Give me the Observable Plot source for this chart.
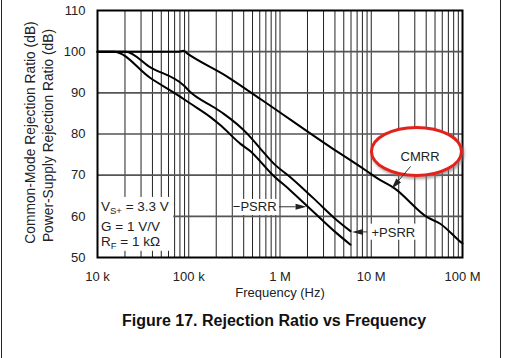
<!DOCTYPE html>
<html><head><meta charset="utf-8">
<script src="https://cdn.jsdelivr.net/npm/d3@7"></script>
<script src="https://cdn.jsdelivr.net/npm/@observablehq/plot@0.6"></script>
<style>
body{margin:0;background:#fff;font-family:"Liberation Sans",Arial,sans-serif;}
#wrap{position:relative;width:507px;height:358px;overflow:hidden;background:#fff;}
#chart{position:absolute;left:0;top:0;}
.vb{position:absolute;top:0;width:1px;height:358px;background:#222;}
#title{position:absolute;top:312px;left:0;width:548px;text-align:center;font-weight:bold;font-size:16px;color:#111;}
</style></head><body>
<div id="wrap"><div id="chart"></div><div class="vb" style="left:1px"></div><div class="vb" style="left:500px"></div><div id="title">Figure 17. Rejection Ratio vs Frequency</div></div>
<script>
// ---- data ----
const cmrrFreq = [1e4, 7.8e4, 8.8e4, 9.6e4, 2.53e5, 6.1e5, 3.57e6, 8.65e6, 1.17e7, 1.8e7, 4.1e7, 5.7e7, 9.5e7, 1e8];
const cmrrDb   = [100, 100, 100.2, 99.6, 94.2, 88.5, 76.8, 71.2, 69.2, 66.8, 59.8, 58.2, 53.8, 53.4];
const plusFreq = [1e4, 2.03e4, 3.8e4, 8.83e4, 1.04e5, 1.88e5, 2.42e5, 4.37e5, 6.11e5, 8.55e5, 1.3e6, 2.35e6, 4.23e6, 5.93e6];
const plusDb   = [100, 100, 96.2, 91.8, 90.2, 86.5, 84.9, 80.1, 76.4, 72.8, 69.5, 64.3, 59.0, 56.4];
const minusFreq = [1e4, 1.51e4, 3.8e4, 8.12e4, 1.04e5, 1.73e5, 2.23e5, 3.69e5, 4.75e5, 6.64e5, 7.87e5, 1.3e6, 2.35e6, 4.23e6, 5.93e6];
const minusDb   = [100, 100, 93.6, 89.0, 87.4, 84.1, 82.1, 77.6, 75.8, 72.4, 70.6, 66.3, 61.0, 55.8, 53.1];

const xTicks = [1e4, 1e5, 1e6, 1e7, 1e8];
const xTickLabels = ["10 k", "100 k", "1 M", "10 M", "100 M"];
const yTicks = [50, 60, 70, 80, 90, 100, 110];
const yGrid = [60, 70, 80, 90, 100];
const decades = [1e4, 1e5, 1e6, 1e7];
const multipliers = [1, 2, 3, 4, 5, 6, 7, 8, 9];
const xGrid = decades.flatMap(d => multipliers.map(m => d * m)).filter(v => v > 1e4);

const yLabel1 = "Common-Mode Rejection Ratio (dB)";
const yLabel2 = "Power-Supply Rejection Ratio (dB)";
const xLabel = "Frequency (Hz)";

// annotation anchors in data space
const labelMinus = [{text: "−PSRR", f: 9.16e5, db: 62.2}];
const labelPlus = [{text: "+PSRR", f: 1.007e7, db: 56.1}];
const labelCmrr = [{text: "CMRR", f: 3.47e7, db: 74.3}];
const bgBoxes = [
  {x1: 1e4, x2: 6.85e4, y1: 51.5, y2: 64.6},
  {x1: 3.09e5, x2: 9.64e5, y1: 60.2, y2: 64.1},
  {x1: 9.33e6, x2: 3.38e7, y1: 54.2, y2: 58.1}
];
const arrows = [
  {f0: 9.89e5, db0: 62.2, f1: 1.98e6, db1: 62.2},
  {f0: 9.1e6, db0: 56.1, f1: 6.24e6, db1: 56.1},
  {f0: 2.73e7, db0: 72.0, f1: 1.69e7, db1: 66.55}
];
const ellipse = {f: 3.17e7, db: 75.65};

const rows = [
  ...cmrrFreq.map((f, i) => ({series: "CMRR", f, db: cmrrDb[i]})),
  ...plusFreq.map((f, i) => ({series: "+PSRR", f, db: plusDb[i]})),
  ...minusFreq.map((f, i) => ({series: "-PSRR", f, db: minusDb[i]}))
];
const tickMap = new Map(xTicks.map((t, i) => [t, xTickLabels[i]]));
const FONT = "Liberation Sans, Arial, sans-serif";

const chart = Plot.plot({
  width: 507, height: 310,
  marginLeft: 97, marginRight: 45, marginTop: 10, marginBottom: 53,
  style: {fontFamily: FONT, fontSize: "13px", color: "#222", background: "transparent"},
  x: {type: "log", domain: [1e4, 1e8]},
  y: {domain: [50, 110]},
  marks: [
    Plot.ruleX(xGrid, {stroke: "#222", strokeWidth: 1}),
    Plot.ruleY(yGrid, {stroke: "#555", strokeWidth: 1.6}),
    Plot.rect(bgBoxes, {x1: "x1", x2: "x2", y1: "y1", y2: "y2", fill: "white"}),
    Plot.line(rows, {x: "f", y: "db", z: "series", stroke: "black", strokeWidth: 2, curve: "monotone-x"}),
    Plot.frame({stroke: "black", strokeWidth: 2}),
    Plot.axisX(xTicks, {tickSize: 0, tickPadding: 14, tickFormat: d => tickMap.get(d), fontSize: 13, label: null}),
    Plot.axisY(yTicks, {tickSize: 0, tickPadding: 12, fontSize: 13, label: null}),
    Plot.text([xLabel], {frameAnchor: "bottom", dy: 39, fontSize: 13, fill: "#222"}),
    Plot.text(labelMinus, {x: "f", y: "db", text: "text", textAnchor: "end", fontSize: 13, fill: "#222"}),
    Plot.text(labelPlus, {x: "f", y: "db", text: "text", textAnchor: "start", fontSize: 13, fill: "#222"})
  ]
});
document.getElementById("chart").appendChild(chart);

const X = chart.scale("x"), Y = chart.scale("y");
const svg = d3.select(chart);

// drop-shadow filter
const defs = svg.append("defs");
const flt = defs.append("filter").attr("id", "shadow").attr("x", "-20%").attr("y", "-20%").attr("width", "140%").attr("height", "150%");
flt.append("feDropShadow").attr("dx", 1.5).attr("dy", 2).attr("stdDeviation", 1.5).attr("flood-color", "#777").attr("flood-opacity", 0.7);

// red ellipse around CMRR (white fill hides the grid)
svg.append("ellipse")
  .attr("cx", X.apply(ellipse.f)).attr("cy", Y.apply(ellipse.db))
  .attr("rx", 45).attr("ry", 24)
  .attr("fill", "white").attr("stroke", "#e3201b").attr("stroke-width", 3)
  .attr("filter", "url(#shadow)");
svg.append("text")
  .attr("x", X.apply(labelCmrr[0].f)).attr("y", Y.apply(labelCmrr[0].db))
  .attr("dy", "0.32em").attr("text-anchor", "middle")
  .attr("font-family", FONT).attr("font-size", 13).attr("fill", "#222")
  .text(labelCmrr[0].text);

// arrows with filled heads
const ag = svg.append("g");
arrows.forEach(a => {
  const x0 = X.apply(a.f0), y0 = Y.apply(a.db0), x1 = X.apply(a.f1), y1 = Y.apply(a.db1);
  const dx = x1 - x0, dy = y1 - y0, L = Math.hypot(dx, dy), ux = dx / L, uy = dy / L;
  const hl = 11, hw = 3;
  const bx = x1 - ux * hl, by = y1 - uy * hl;
  ag.append("line").attr("x1", x0).attr("y1", y0).attr("x2", bx).attr("y2", by)
    .attr("stroke", "#333").attr("stroke-width", 1);
  ag.append("path").attr("d", `M${x1},${y1}L${bx - uy * hw},${by + ux * hw}L${bx + uy * hw},${by - ux * hw}Z`)
    .attr("fill", "#222");
});

// inset conditions with subscripts
const inset = svg.append("g").attr("font-family", FONT).attr("font-size", 13.5).attr("fill", "#222").attr("text-anchor", "start");
const ix = X.apply(1e4) + 4;
const t1 = inset.append("text").attr("x", ix).attr("y", Y.apply(61.2));
t1.append("tspan").text("V");
t1.append("tspan").attr("font-size", 9.5).attr("dy", 3).text("S+");
t1.append("tspan").attr("dy", -3).text(" = 3.3 V");
inset.append("text").attr("x", ix).attr("y", Y.apply(56.4)).text("G = 1 V/V");
const t3 = inset.append("text").attr("x", ix).attr("y", Y.apply(52.7));
t3.append("tspan").text("R");
t3.append("tspan").attr("font-size", 9.5).attr("dy", 3).text("F");
t3.append("tspan").attr("dy", -3).text(" = 1 kΩ");

// two-line y axis title
[[yLabel1, 30, 132.5], [yLabel2, 48, 135.5]].forEach(([txt, x, c]) => {
  svg.append("text").attr("transform", `translate(${x},${c}) rotate(-90)`)
    .attr("text-anchor", "middle").attr("dominant-baseline", "central")
    .attr("font-family", FONT).attr("font-size", 13.8).attr("fill", "#222").text(txt);
});
</script>
</body></html>
